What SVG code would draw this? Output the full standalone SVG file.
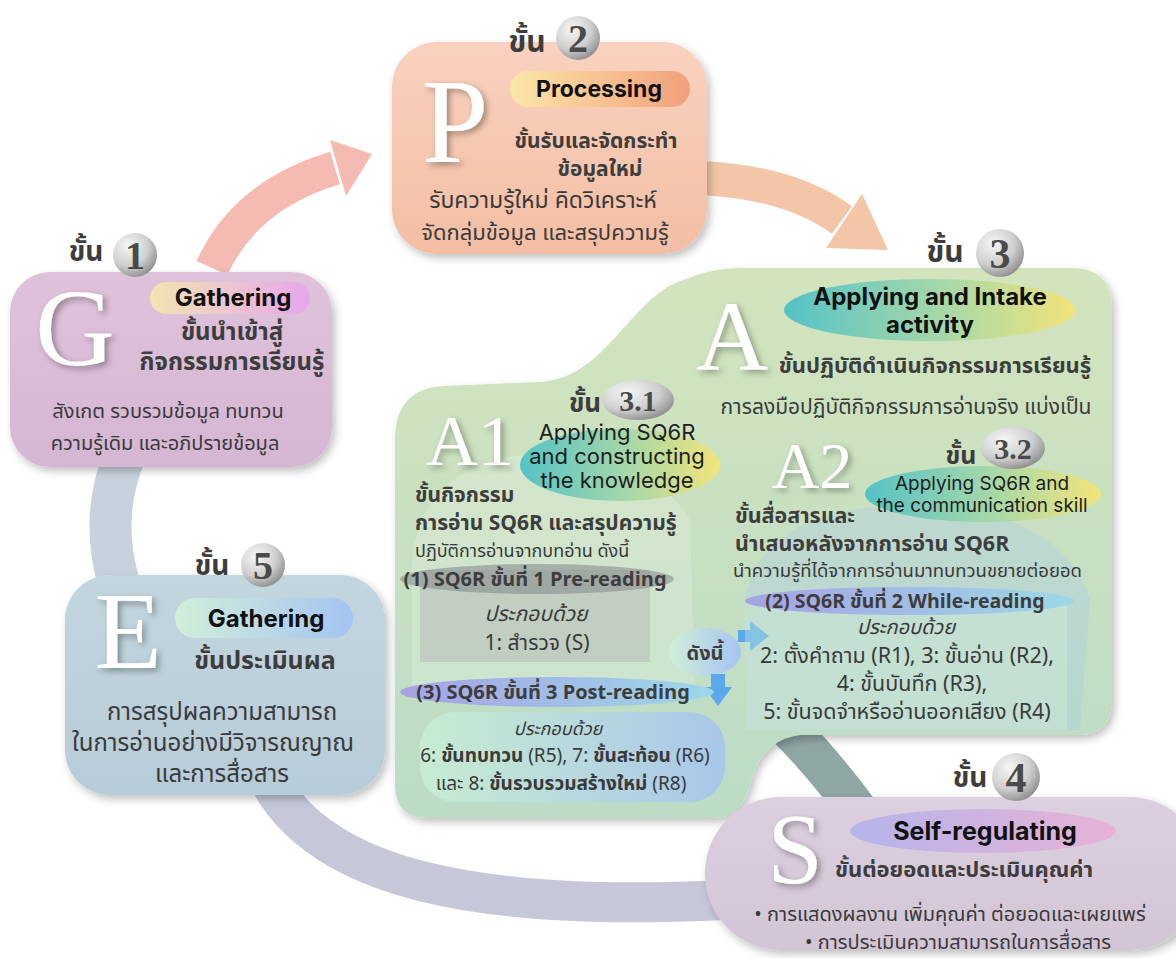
<svg xmlns="http://www.w3.org/2000/svg" width="1176" height="958" viewBox="0 0 1176 958">
<defs>
<filter id="sh" x="-10%" y="-10%" width="130%" height="130%"><feDropShadow dx="3" dy="4" stdDeviation="4" flood-color="#000" flood-opacity="0.25"/></filter>
<filter id="tsh" x="-20%" y="-20%" width="150%" height="150%"><feDropShadow dx="3" dy="3" stdDeviation="3" flood-color="#000" flood-opacity="0.35"/></filter>
<radialGradient id="gc" cx="35%" cy="30%" r="75%"><stop offset="0" stop-color="#f6f6f6"/><stop offset="0.6" stop-color="#cfcfcf"/><stop offset="1" stop-color="#8e8e8e"/></radialGradient>
<linearGradient id="gP" x1="0" y1="0" x2="0" y2="1"><stop offset="0" stop-color="#f9d2bf"/><stop offset="1" stop-color="#f3bea4"/></linearGradient>
<linearGradient id="gProc" x1="0" y1="0" x2="1" y2="0"><stop offset="0" stop-color="#fbe6a8"/><stop offset="1" stop-color="#f2a07c"/></linearGradient>
<linearGradient id="gG" x1="0" y1="0" x2="0" y2="1"><stop offset="0" stop-color="#dfc2da"/><stop offset="1" stop-color="#d5b6d3"/></linearGradient>
<linearGradient id="gGath" x1="0" y1="0" x2="1" y2="0"><stop offset="0" stop-color="#f2e4b2"/><stop offset="1" stop-color="#e8a6ec"/></linearGradient>
<linearGradient id="gE" x1="0" y1="0" x2="0" y2="1"><stop offset="0" stop-color="#c3d6de"/><stop offset="1" stop-color="#b6ccd8"/></linearGradient>
<linearGradient id="gEp" x1="0" y1="0" x2="1" y2="0"><stop offset="0" stop-color="#d2eed8"/><stop offset="1" stop-color="#a4c4f2"/></linearGradient>
<linearGradient id="gA" x1="0" y1="0" x2="0" y2="1"><stop offset="0" stop-color="#d3e4bd"/><stop offset="1" stop-color="#bcdcc6"/></linearGradient>
<linearGradient id="gTY" x1="0" y1="0" x2="1" y2="0"><stop offset="0" stop-color="#55c2c6"/><stop offset="0.55" stop-color="#a8d8a8"/><stop offset="1" stop-color="#f2e47a"/></linearGradient>
<linearGradient id="gPur" x1="0" y1="0" x2="1" y2="0"><stop offset="0" stop-color="#a7a2e4"/><stop offset="1" stop-color="#9cd8e8"/></linearGradient>
<linearGradient id="gGB" x1="0" y1="0" x2="1" y2="0"><stop offset="0" stop-color="#c8eed2"/><stop offset="1" stop-color="#a6c4ee"/></linearGradient>
<linearGradient id="gS" x1="0" y1="0" x2="0" y2="1"><stop offset="0" stop-color="#dccfdf"/><stop offset="1" stop-color="#d2c6d6"/></linearGradient>
<linearGradient id="gSp" x1="0" y1="0" x2="1" y2="0"><stop offset="0" stop-color="#b4b4ea"/><stop offset="1" stop-color="#e8b2d6"/></linearGradient>
<style>
.th{font-family:"Noto Sans Thai","Noto Sans","DejaVu Sans",sans-serif;fill:#3a3a3a}
.thb{font-family:"Noto Sans Thai","Noto Sans","DejaVu Sans",sans-serif;font-weight:bold;fill:#3d3d3d}
.en{font-family:Inter,"Liberation Sans",sans-serif;font-weight:bold;fill:#111}
.enr{font-family:Inter,"Liberation Sans",sans-serif;fill:#1e1e1e}
.big{font-family:"Liberation Serif",serif;fill:#fff}
.num{font-family:"Liberation Serif",serif;font-weight:bold;fill:#4a4a4a}
.c{text-anchor:middle}
</style>
</defs>
<rect width="1176" height="958" fill="#fff"/>

<g id="connectors" fill="none">
<path d="M125,455 Q100,515 118,580" stroke="#c8d2dc" stroke-width="42"/>
<path d="M268,778 C320,880 480,912 725,900" stroke="#c6c8da" stroke-width="40"/>
<path d="M785,725 Q830,770 872,830" stroke="#8ea6a4" stroke-width="40"/>
<path d="M212,268 Q245,195 335,168" stroke="#f5bab2" stroke-width="34"/>
<polygon points="330,140 372,154 346,196" fill="#f5bab2"/>
<path d="M700,178 Q790,182 842,220" stroke="#f3c6a8" stroke-width="34"/>
<polygon points="862,194 888,250 826,248" fill="#f3c6a8"/>
</g>

<g id="nodeP">
<rect x="392" y="42" width="315" height="212" rx="45" fill="url(#gP)" filter="url(#sh)"/>
<text class="thb c" x="527" y="52" font-size="30">ขั้น</text>
<circle cx="578" cy="38" r="22" fill="url(#gc)"/>
<text class="num c" x="578" y="52" font-size="40">2</text>
<rect x="510" y="71" width="180" height="36" rx="18" fill="url(#gProc)"/>
<text class="en c" x="599" y="97" font-size="23">Processing</text>
<text class="big c" x="455" y="162" font-size="120" filter="url(#tsh)">P</text>
<text class="thb c" x="596" y="148" font-size="21">ขั้นรับและจัดกระทำ</text>
<text class="thb c" x="600" y="176" font-size="21">ข้อมูลใหม่</text>
<text class="th c" x="543" y="208" font-size="23">รับความรู้ใหม่ คิดวิเคราะห์</text>
<text class="th c" x="545" y="240" font-size="22">จัดกลุ่มข้อมูล และสรุปความรู้</text>
</g>

<g id="nodeG">
<rect x="10" y="272" width="322" height="195" rx="40" fill="url(#gG)" filter="url(#sh)"/>
<text class="thb c" x="86" y="261" font-size="28">ขั้น</text>
<circle cx="135" cy="255" r="22" fill="url(#gc)"/>
<text class="num c" x="135" y="269" font-size="40">1</text>
<rect x="150" y="282" width="160" height="32" rx="16" fill="url(#gGath)"/>
<text class="en c" x="233" y="306" font-size="24">Gathering</text>
<text class="big c" x="75" y="365" font-size="110" filter="url(#tsh)">G</text>
<text class="thb c" x="232" y="340" font-size="24">ขั้นนำเข้าสู่</text>
<text class="thb c" x="232" y="370" font-size="24">กิจกรรมการเรียนรู้</text>
<text class="th c" x="168" y="418" font-size="20">สังเกต รวบรวมข้อมูล ทบทวน</text>
<text class="th c" x="165" y="450" font-size="20">ความรู้เดิม และอภิปรายข้อมูล</text>
</g>

<g id="nodeE">
<rect x="65" y="575" width="320" height="220" rx="45" fill="url(#gE)" filter="url(#sh)"/>
<text class="thb c" x="212" y="575" font-size="28">ขั้น</text>
<circle cx="263" cy="565" r="22" fill="url(#gc)"/>
<text class="num c" x="263" y="579" font-size="40">5</text>
<rect x="175" y="598" width="178" height="40" rx="20" fill="url(#gEp)"/>
<text class="en c" x="266" y="627" font-size="24">Gathering</text>
<text class="big c" x="128" y="668" font-size="110" filter="url(#tsh)">E</text>
<text class="thb c" x="265" y="669" font-size="25">ขั้นประเมินผล</text>
<text class="th c" x="222" y="720" font-size="24">การสรุปผลความสามารถ</text>
<text class="th c" x="213" y="751" font-size="24">ในการอ่านอย่างมีวิจารณญาณ</text>
<text class="th c" x="222" y="782" font-size="24">และการสื่อสาร</text>
</g>

<g id="nodeA">
<path d="M395,440 Q395,388 445,386 L540,382 C610,378 630,292 690,278 Q710,268 745,268 L1072,268 Q1112,268 1112,310 L1112,700 Q1112,735 1078,735 L800,735 Q760,740 750,785 Q742,818 712,818 L428,818 Q395,818 395,785 Z" fill="url(#gA)" filter="url(#sh)"/>
<path d="M412,560 Q420,470 520,455 Q640,440 690,520 L695,700 L412,700 Z" fill="#fff" opacity="0.18"/>
<path d="M745,600 Q760,510 900,505 Q1060,505 1090,600 L1080,730 L745,730 Z" fill="#a6c6ee" opacity="0.3"/>
<text class="thb c" x="945" y="262" font-size="30">ขั้น</text>
<circle cx="1000" cy="253" r="24" fill="url(#gc)"/>
<text class="num c" x="1000" y="268" font-size="42">3</text>
<ellipse cx="930" cy="310" rx="146" ry="31" fill="url(#gTY)"/>
<text class="en c" x="930" y="305" font-size="24">Applying and Intake</text>
<text class="en c" x="930" y="333" font-size="24">activity</text>
<text class="big c" x="732" y="370" font-size="100" filter="url(#tsh)">A</text>
<text class="thb c" x="935" y="373" font-size="22">ขั้นปฏิบัติดำเนินกิจกรรมการเรียนรู้</text>
<text class="th c" x="906" y="414" font-size="21">การลงมือปฏิบัติกิจกรรมการอ่านจริง แบ่งเป็น</text>
</g>

<g id="nodeA1">
<ellipse cx="620" cy="465" rx="100" ry="36" fill="url(#gTY)"/>
<text class="thb c" x="585" y="412" font-size="26">ขั้น</text>
<ellipse cx="638" cy="400" rx="36" ry="20" fill="url(#gc)"/>
<text class="num c" x="638" y="411" font-size="30">3.1</text>
<text class="enr c" x="617" y="440" font-size="22">Applying SQ6R</text>
<text class="enr c" x="617" y="464" font-size="22">and constructing</text>
<text class="enr c" x="617" y="488" font-size="22">the knowledge</text>
<text class="big c" x="470" y="465" font-size="72" filter="url(#tsh)">A1</text>
<text class="thb" x="415" y="502" font-size="21">ขั้นกิจกรรม</text>
<text class="thb" x="415" y="530" font-size="21">การอ่าน SQ6R และสรุปความรู้</text>
<text class="th" x="415" y="557" font-size="18">ปฏิบัติการอ่านจากบทอ่าน ดังนี้</text>
<rect x="420" y="570" width="230" height="92" fill="#b4b8b6" opacity="0.5"/>
<ellipse cx="537" cy="579" rx="137" ry="15" fill="#8c9494" opacity="0.65"/>
<text class="thb c" x="535" y="586" font-size="20">(1) SQ6R ขั้นที่ 1 Pre-reading</text>
<text class="th c" x="536" y="621" font-size="21" font-style="italic">ประกอบด้วย</text>
<text class="th c" x="537" y="650" font-size="21">1: สำรวจ (S)</text>
</g>

<g id="nodeNext">
<ellipse cx="705" cy="652" rx="36" ry="24" fill="url(#gEp)"/>
<text class="thb c" x="705" y="660" font-size="20">ดังนี้</text>
<rect x="738" y="630" width="14" height="12" fill="#5aa9ec"/>
<polygon points="750,621 769,636 750,651" fill="#5aa9ec"/>
<rect x="711" y="674" width="14" height="14" fill="#5aa9ec"/>
<polygon points="704,687 718,706 732,687" fill="#5aa9ec"/>
</g>

<g id="nodeA3">
<ellipse cx="557" cy="692" rx="157" ry="15" fill="url(#gPur)"/>
<text class="thb c" x="553" y="699" font-size="20">(3) SQ6R ขั้นที่ 3 Post-reading</text>
<rect x="420" y="712" width="305" height="90" rx="35" fill="url(#gGB)" opacity="0.9"/>
<text class="th c" x="558" y="735" font-size="18" font-style="italic">ประกอบด้วย</text>
<text class="th c" x="565" y="762" font-size="19">6: <tspan font-weight="bold">ขั้นทบทวน</tspan> (R5), 7: <tspan font-weight="bold">ขั้นสะท้อน</tspan> (R6)</text>
<text class="th c" x="561" y="790" font-size="19">และ 8: <tspan font-weight="bold">ขั้นรวบรวมสร้างใหม่</tspan> (R8)</text>
</g>

<g id="nodeA2">
<text class="big c" x="812" y="488" font-size="66" filter="url(#tsh)">A2</text>
<ellipse cx="983" cy="494" rx="118" ry="28" fill="url(#gTY)"/>
<text class="thb c" x="961" y="464" font-size="25">ขั้น</text>
<ellipse cx="1013" cy="448" rx="32" ry="21" fill="url(#gc)"/>
<text class="num c" x="1013" y="459" font-size="30">3.2</text>
<text class="enr c" x="982" y="490" font-size="19">Applying SQ6R and</text>
<text class="enr c" x="982" y="512" font-size="19">the communication skill</text>
<text class="thb" x="735" y="523" font-size="21.5">ขั้นสื่อสารและ</text>
<text class="thb" x="735" y="551" font-size="21.5">นำเสนอหลังจากการอ่าน SQ6R</text>
<text class="th" x="733" y="577" font-size="18.5">นำความรู้ที่ได้จากการอ่านมาทบทวนขยายต่อยอด</text>
<rect x="745" y="600" width="322" height="130" fill="#d8f0d8" opacity="0.35"/>
<ellipse cx="910" cy="601" rx="165" ry="14" fill="url(#gPur)"/>
<text class="thb c" x="905" y="608" font-size="19.5">(2) SQ6R ขั้นที่ 2 While-reading</text>
<text class="th c" x="906" y="634" font-size="20" font-style="italic">ประกอบด้วย</text>
<text class="th c" x="907" y="663" font-size="21.5">2: ตั้งคำถาม (R1), 3: ขั้นอ่าน (R2),</text>
<text class="th c" x="912" y="691" font-size="21.5">4: ขั้นบันทึก (R3),</text>
<text class="th c" x="907" y="719" font-size="21.5">5: ขั้นจดจำหรืออ่านออกเสียง (R4)</text>
</g>

<g id="nodeS">
<rect x="705" y="797" width="500" height="153" rx="76" fill="url(#gS)" filter="url(#sh)"/>
<text class="thb c" x="970" y="787" font-size="28">ขั้น</text>
<circle cx="1016" cy="777" r="24" fill="url(#gc)"/>
<text class="num c" x="1016" y="792" font-size="42">4</text>
<ellipse cx="983" cy="831" rx="133" ry="22" fill="url(#gSp)"/>
<text class="en c" x="985" y="840" font-size="25">Self-regulating</text>
<text class="big c" x="795" y="882" font-size="100" filter="url(#tsh)">S</text>
<text class="thb c" x="964" y="877" font-size="22">ขั้นต่อยอดและประเมินคุณค่า</text>
<text class="th c" x="950" y="921" font-size="20">• การแสดงผลงาน เพิ่มคุณค่า ต่อยอดและเผยแพร่</text>
<text class="th c" x="958" y="949" font-size="20">• การประเมินความสามารถในการสื่อสาร</text>
</g>
</svg>
